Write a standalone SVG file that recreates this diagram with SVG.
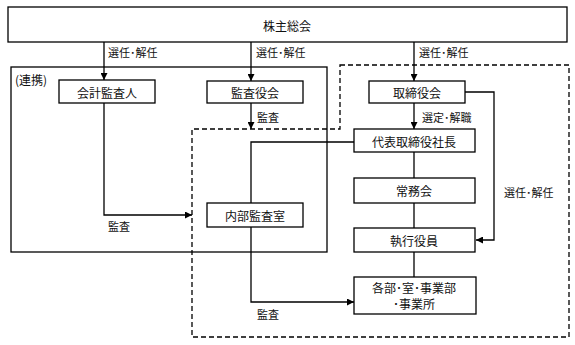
<svg xmlns="http://www.w3.org/2000/svg" width="575" height="345" viewBox="0 0 575 345">
<defs>
<marker id="ah" viewBox="0 0 10 10" refX="10" refY="5" markerWidth="7" markerHeight="7" markerUnits="userSpaceOnUse" orient="auto">
<path d="M0,0 L10,5 L0,10 z" fill="#000"/>
</marker>
<style>
.box{fill:#fff;stroke:#000;stroke-width:1.3}
.frame{fill:none;stroke:#000;stroke-width:1.3}
.dash{fill:none;stroke:#000;stroke-width:1.3;stroke-dasharray:5,3}
.ln{fill:none;stroke:#000;stroke-width:1.3}
.arr{fill:none;stroke:#000;stroke-width:1.3;marker-end:url(#ah)}
text{font-family:"Noto Sans CJK JP","Noto Sans CJK SC",sans-serif;fill:#111}
.t{font-size:12px;text-anchor:middle;dominant-baseline:central}
.l{font-size:11px;dominant-baseline:central}
</style>
</defs>
<rect width="575" height="345" fill="#fff"/>
<g id="frames">
<rect class="frame" x="11" y="67" width="316" height="185"/>
<path class="dash" d="M340,65 H569 V337 H192 V129 H340 Z"/>
<text class="l" x="15" y="79" style="font-size:12px">(連携)</text>
</g>
<g id="connectors">
<path class="arr" d="M104,42 V80"/>
<path class="arr" d="M251,42 V81"/>
<path class="arr" d="M414,42 V81"/>
<path class="arr" d="M251,103 V129"/>
<path class="arr" d="M414,103 V129"/>
<path class="arr" d="M104,103 V215 H192"/>
<path class="ln" d="M354,142 H251 V203"/>
<path class="ln" d="M414,152 V178"/>
<path class="ln" d="M414,203 V228"/>
<path class="ln" d="M414,252 V277"/>
<path class="arr" d="M465,92 H494 V240 H476"/>
<path class="arr" d="M251,227 V302 H354"/>
<text class="l" x="108" y="52">選任･解任</text>
<text class="l" x="256" y="52">選任･解任</text>
<text class="l" x="419" y="52">選任･解任</text>
<text class="l" x="257" y="117">監査</text>
<text class="l" x="422" y="117">選定･解職</text>
<text class="l" x="108" y="226">監査</text>
<text class="l" x="504" y="192">選任･解任</text>
<text class="l" x="257" y="314">監査</text>
</g>
<g id="n-shareholders"><rect class="box" x="8" y="7" width="559" height="35"/><text class="t" x="287" y="25">株主総会</text></g>
<g id="n-auditor"><rect class="box" x="59" y="80" width="96" height="23"/><text class="t" x="107" y="92">会計監査人</text></g>
<g id="n-kansayakukai"><rect class="box" x="207" y="81" width="96" height="22"/><text class="t" x="255" y="92">監査役会</text></g>
<g id="n-board"><rect class="box" x="369" y="81" width="96" height="22"/><text class="t" x="417" y="92">取締役会</text></g>
<g id="n-president"><rect class="box" x="354" y="129" width="121" height="23"/><text class="t" x="414" y="141">代表取締役社長</text></g>
<g id="n-jomukai"><rect class="box" x="354" y="178" width="121" height="25"/><text class="t" x="414" y="190">常務会</text></g>
<g id="n-internal"><rect class="box" x="207" y="203" width="96" height="24"/><text class="t" x="255" y="215">内部監査室</text></g>
<g id="n-officers"><rect class="box" x="354" y="228" width="121" height="24"/><text class="t" x="414" y="240">執行役員</text></g>
<g id="n-depts"><rect class="box" x="354" y="277" width="122" height="37"/><text class="t" x="414" y="287">各部･室･事業部</text><text class="t" x="414" y="303">･事業所</text></g>
</svg>
